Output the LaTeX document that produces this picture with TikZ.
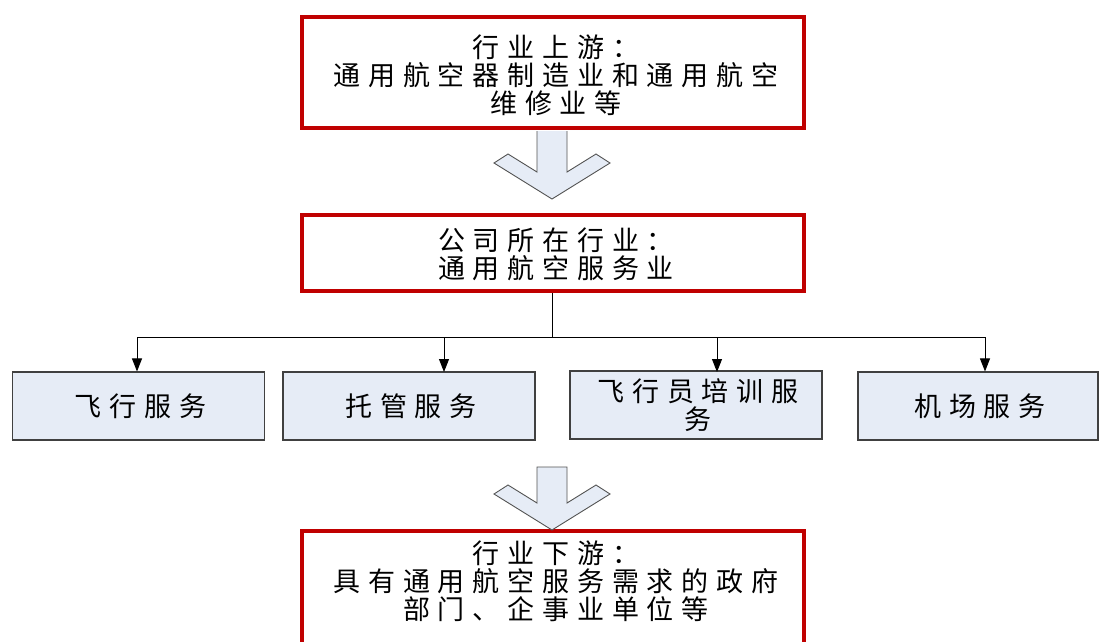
\documentclass[tikz,border=0pt]{standalone}
\usepackage{fontspec}
\setmainfont{Noto Sans CJK SC}[LetterSpace=29]
\usetikzlibrary{arrows.meta}
\definecolor{boxred}{RGB}{192,0,0}
\definecolor{boxblue}{RGB}{230,236,246}
\definecolor{boxgray}{RGB}{64,64,64}
\tikzset{
  redbox/.style={draw=boxred, line width=4pt, fill=white, rectangle, inner sep=0pt},
  bluebox/.style={draw=boxgray, line width=1.1pt, fill=boxblue, rectangle, inner sep=0pt, minimum width=252pt, minimum height=68pt, align=center, font=\fontsize{27}{28}\selectfont},
  txt/.style={align=center, font=\fontsize{27}{28}\selectfont, inner sep=0pt},
  bigarrow/.style={draw=boxgray!90, line width=0.9pt, fill=boxblue},
  conn/.style={draw=black, line width=0.9pt},
  arr/.style={conn, -{Triangle[width=10pt,length=13pt]}}
}
\begin{document}
\begin{tikzpicture}[x=1pt,y=-1pt]
\useasboundingbox (0,0) rectangle (1099,641);
\clip (0,0) rectangle (1099,641);
% top box
\node[redbox, minimum width=502pt, minimum height=111pt] (up) at (552.5,72.5) {};
\node[txt] (uptxt) at (556,75) {行业上游：\\通用航空器制造业和通用航空\\维修业等};
% middle box
\node[redbox, minimum width=502pt, minimum height=76pt] (mid) at (552.5,253) {};
\node[txt] (midtxt) at (556,254) {公司所在行业：\\通用航空服务业};
% bottom box (extends past the page)
\node[redbox, minimum width=502pt, minimum height=170pt] (down) at (552.5,616) {};
\node[txt] (downtxt) at (556,581) {行业下游：\\具有通用航空服务需求的政府\\部门、企事业单位等};
% big arrows
\draw[bigarrow] (537,131) -- (537,172) -- (508,154) -- (494,163) -- (552,199) -- (610,163) -- (596,154) -- (567,172) -- (567,131);
\draw[bigarrow] (537,467) -- (537,503) -- (508,485) -- (494,494) -- (552,530) -- (610,494) -- (596,485) -- (567,503) -- (567,467) -- cycle;
% service boxes
\node[bluebox] (s1) at (138.5,406) {\hspace*{4pt}飞行服务};
\node[bluebox] (s2) at (409,406) {\hspace*{4pt}托管服务};
\node[bluebox] (s3) at (696,405) {\hspace*{4pt}飞行员培训服\\\hspace*{4pt}务};
\node[bluebox, minimum width=240pt] (s4) at (978,406) {\hspace*{4pt}机场服务};
% connectors
\coordinate (j) at (552,337);
\coordinate (l) at (137,337);
\coordinate (r) at (985,337);
\draw[conn] (mid.south -| j) -- (j);
\draw[conn] (l) -- (r);
\draw[arr] (l) -- (l |- s1.north);
\draw[arr] (444,337) -- (444,372);
\draw[arr] (717,337) -- (717,372);
\draw[arr] (r) -- (r |- s4.north);
\end{tikzpicture}
\end{document}
